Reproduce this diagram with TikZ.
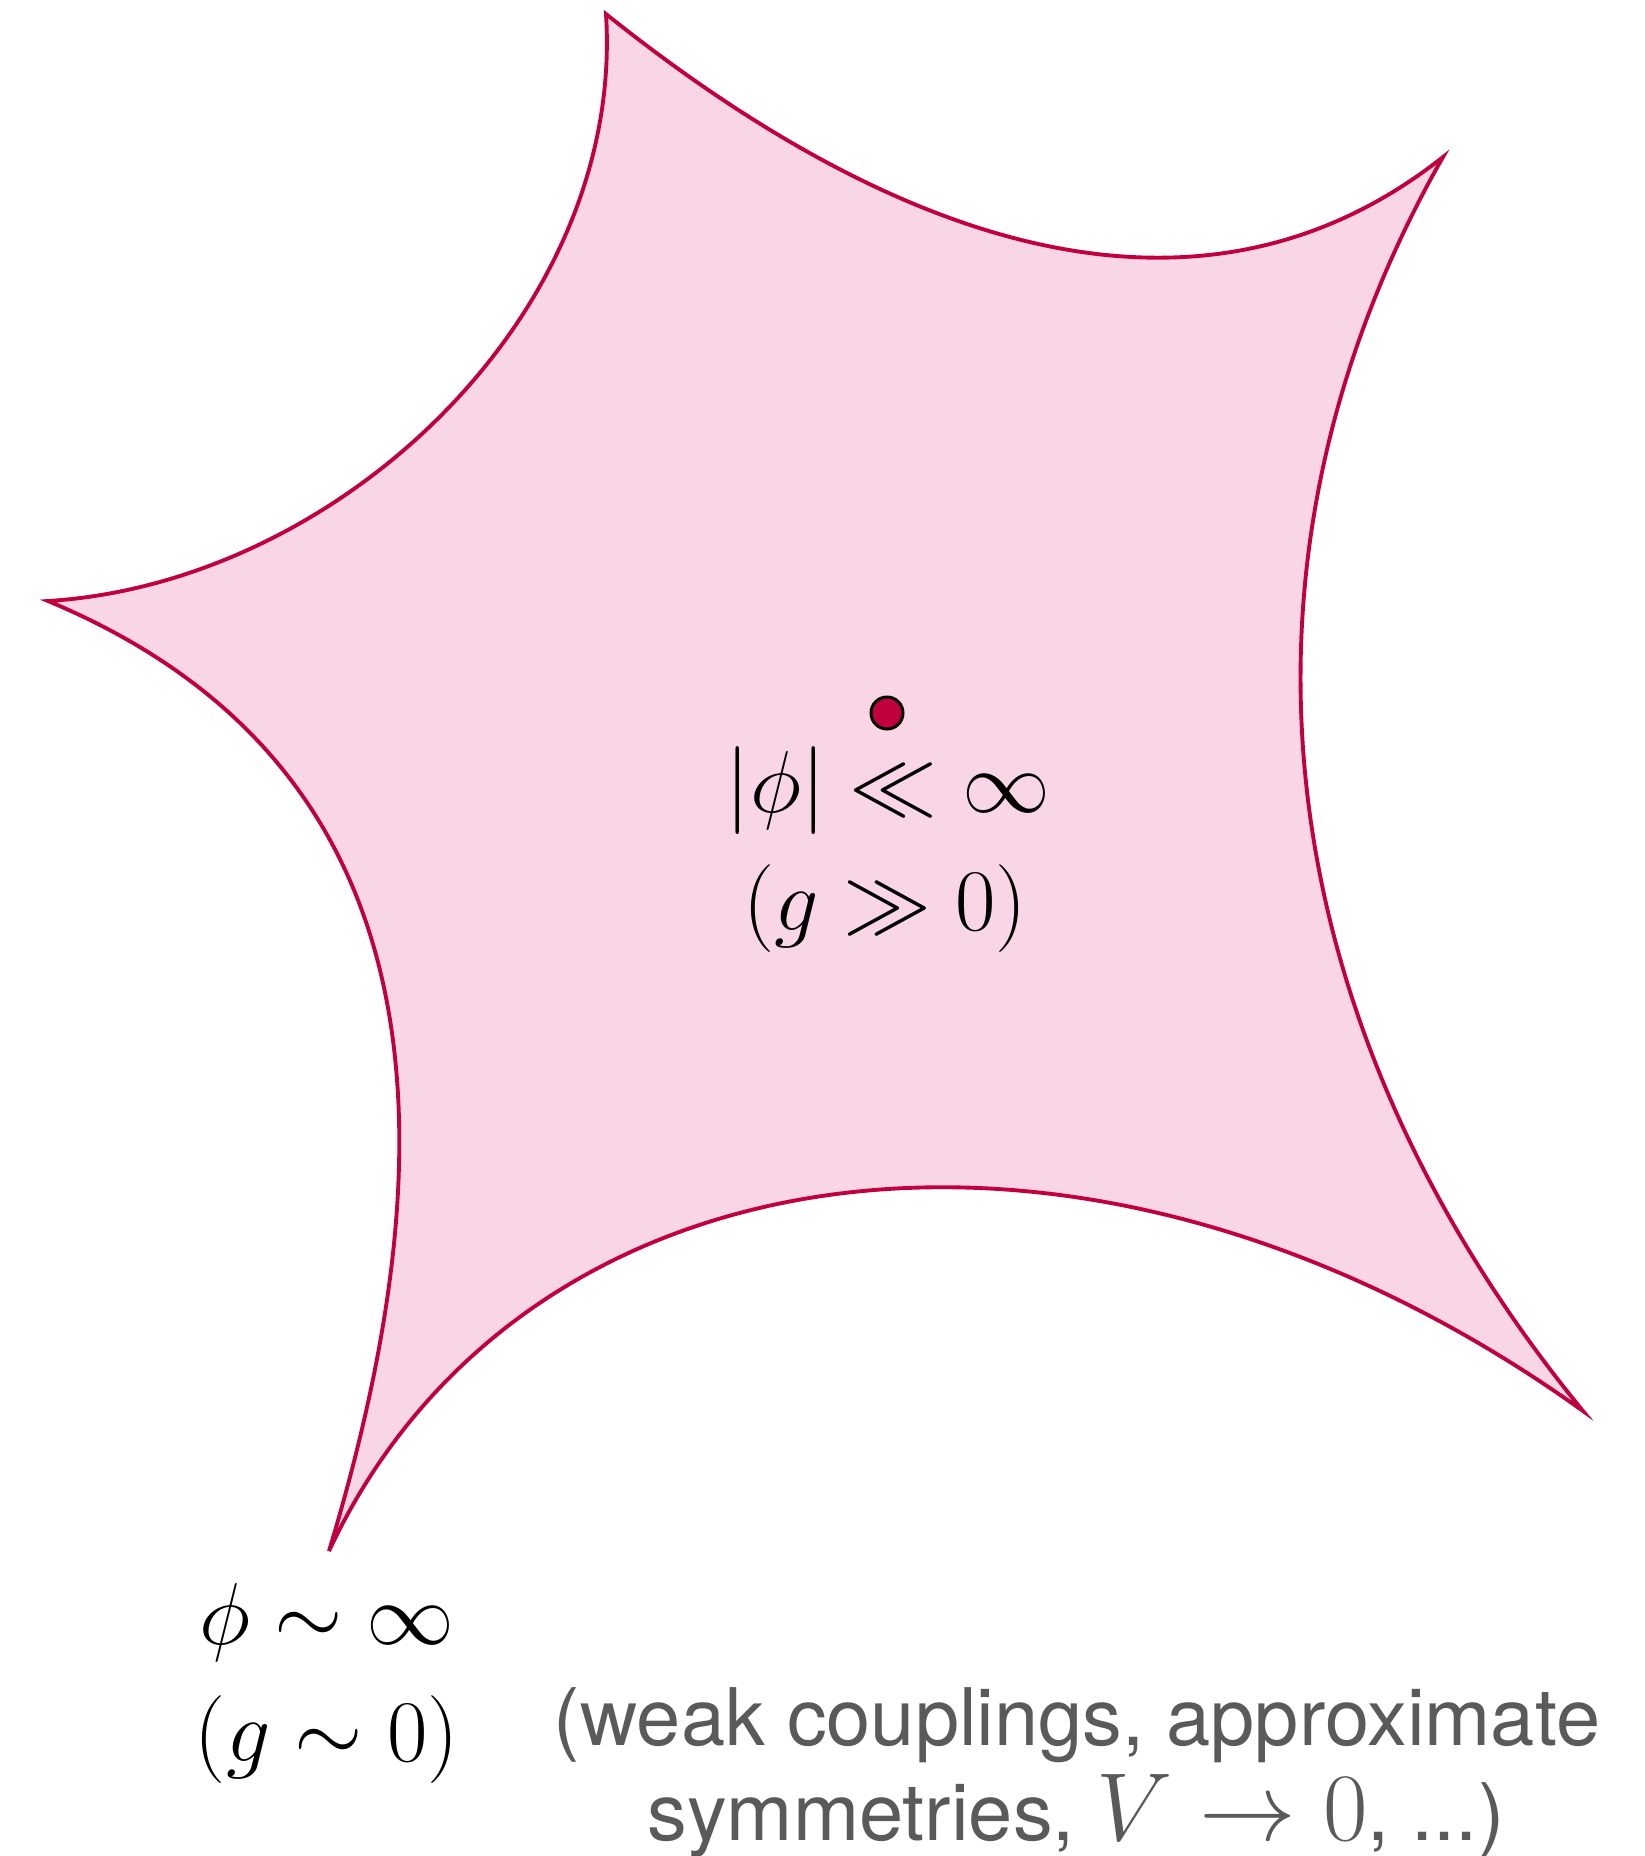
\documentclass[tikz,border=0pt]{standalone}
\usepackage{fix-cm}
\usepackage{fontspec}
\usepackage{amsmath}
\newfontfamily\heros{TeX Gyre Heros}
\definecolor{blobline}{RGB}{193,0,62}
\definecolor{blobfill}{RGB}{249,214,230}
\definecolor{notegray}{RGB}{90,90,90}

\begin{document}
\begin{tikzpicture}[x=0.1mm, y=-0.1mm, blob_style/.style={draw=blobline, fill=blobfill, line width=1.1pt},
			dot_style/.style={circle, draw=black, fill=blobline, line width=0.85pt, minimum size=3.2mm, inner sep=0pt},
			math_style/.style={anchor=base, inner sep=0pt, font=\fontsize{25}{30}\selectfont},
			note_style/.style={anchor=base, inner sep=0pt, text=notegray, font=\heros\fontsize{22.6}{27}\selectfont}]
			\def\bigmath{\fontsize{27.5}{30}\selectfont}
			\useasboundingbox (0,0) rectangle (1645,1856);
			% the five cusps
			\coordinate (tip_n) at (606,14);
			\coordinate (tip_ne) at (1443,157);
			\coordinate (tip_se) at (1583,1411);
			\coordinate (tip_sw) at (329,1551);
			\coordinate (tip_w) at (48,601);
			
			\draw[blob_style] (tip_n) .. controls (906,254) and (1205,345) .. (tip_ne)
				.. controls (1215,557) and (1260,1016) .. (tip_se)
				.. controls (1091,1058) and (523,1136) .. (tip_sw)
				.. controls (445,1167) and (458,772) .. (tip_w)
				.. controls (339,583) and (625,314) .. cycle;
			
			\node[dot_style] (vac) at (887,713) {};
			
			\node[math_style] (core_top) at (888,812) {$|\phi| \ll \infty$};
			\node[math_style] (core_bot) at (885,930) {$(g \gg 0)$};
			\node[math_style] (edge_top) at (327,1644) {$\phi \sim \infty$};
			\node[math_style] (edge_bot) at (327,1761) {$(g \sim 0)$};
			
			\node[note_style] (note_top) at (1077,1745) {(weak couplings, approximate};
			\node[note_style] (note_bot) at (1076,1840) {symmetries, {\bigmath$V \to 0$}, ...)};
		\end{tikzpicture}
\end{document}
